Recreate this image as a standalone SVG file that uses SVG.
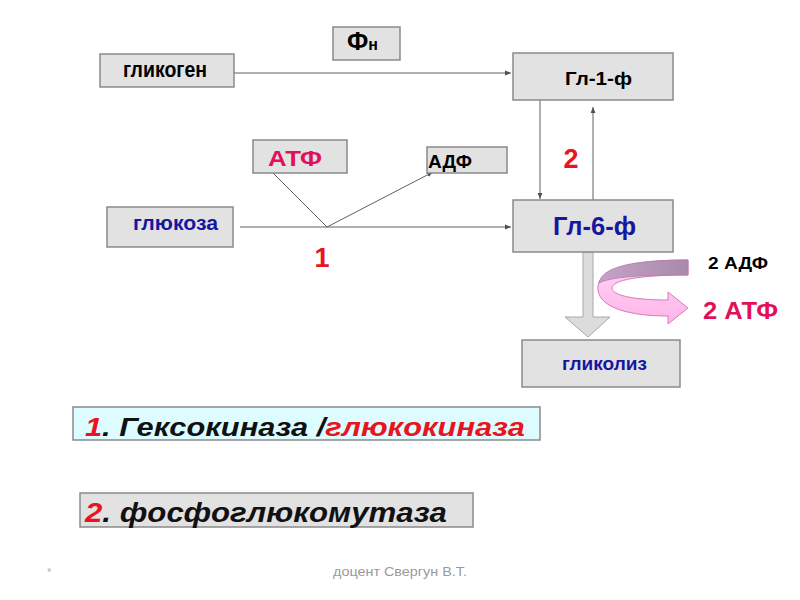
<svg xmlns="http://www.w3.org/2000/svg" width="800" height="600" viewBox="0 0 800 600">
<defs>
<style>
.box{fill:#e2e2e2;stroke:#8a8a8a;stroke-width:1.5}
.t{font-family:"Liberation Sans",Arial,sans-serif;font-weight:bold}
.ln{stroke:#606060;stroke-width:1;fill:none}
.blue{fill:#1616a0}
</style>
<marker id="ah" viewBox="0 0 10 10" refX="10" refY="5" markerWidth="6" markerHeight="6" orient="auto-start-reverse" markerUnits="userSpaceOnUse">
<path d="M0,1 L10,5 L0,9 Z" fill="#505050"/>
</marker>
<linearGradient id="back" x1="0" y1="0" x2="1" y2="0">
<stop offset="0" stop-color="#c6a2c8"/>
<stop offset="1" stop-color="#a98aa9"/>
</linearGradient>
<linearGradient id="front" x1="0" y1="0" x2="0" y2="1">
<stop offset="0" stop-color="#ffd6f4"/>
<stop offset="1" stop-color="#ffb4ea"/>
</linearGradient>
</defs>
<rect width="800" height="600" fill="#ffffff"/>

<g id="connectors">
<line class="ln" x1="234" y1="73" x2="511" y2="73" marker-end="url(#ah)"/>
<line class="ln" x1="240" y1="227" x2="511" y2="227" marker-end="url(#ah)"/>
<polyline class="ln" points="273,173 327,227"/>
<line class="ln" x1="327" y1="227" x2="433" y2="172" marker-end="url(#ah)"/>
<line class="ln" x1="540" y1="100" x2="540" y2="199" marker-end="url(#ah)"/>
<line class="ln" x1="593" y1="207" x2="593" y2="107" marker-end="url(#ah)"/>
<path d="M583,252 L593,252 L593,317 L610,317 L588,337 L565,317 L583,317 Z" fill="#dcdcdc" stroke="#a8a8a8" stroke-width="1"/>
<g id="cycle">
<path d="M688,260 C620,260 596,273 598,290 C600,308 630,316 668,316 L668,324 L688,308 L668,292 L668,300 C632,300 612,295 612,288 C612,280 640,275 688,275 Z" fill="url(#front)" stroke="#d77ab8" stroke-width="1"/>
<path d="M688,260 C628,260 602,268 599,283 C610,277 640,275 688,275 Z" fill="url(#back)" stroke="#b07ab0" stroke-width="0.8"/>
</g>
</g>

<g id="glycogen"><rect class="box" x="100" y="54" width="134" height="33"/><text class="t" x="123" y="77" font-size="22" textLength="84" lengthAdjust="spacingAndGlyphs">гликоген</text></g>
<g id="pn"><rect class="box" x="333" y="27" width="67" height="33"/><text class="t" x="347" y="50"><tspan font-size="25">Ф</tspan><tspan font-size="16">н</tspan></text></g>
<g id="gl1p"><rect class="box" x="513" y="53" width="160" height="47"/><text class="t" x="565" y="85" font-size="18" textLength="67" lengthAdjust="spacingAndGlyphs">Гл-1-ф</text></g>
<g id="atp"><rect class="box" x="253" y="140" width="94" height="33"/><text class="t" x="268" y="166" font-size="22" fill="#e0105a" textLength="54" lengthAdjust="spacingAndGlyphs">АТФ</text></g>
<g id="adp"><rect class="box" x="427" y="147" width="80" height="26"/><text class="t" x="428" y="168" font-size="18" textLength="44" lengthAdjust="spacingAndGlyphs">АДФ</text></g>
<g id="glucose"><rect class="box" x="107" y="207" width="126" height="40"/><text class="t blue" x="133" y="230" font-size="21" textLength="85" lengthAdjust="spacingAndGlyphs">глюкоза</text></g>
<g id="gl6p"><rect class="box" x="513" y="200" width="160" height="52"/><text class="t blue" x="553" y="235" font-size="25" textLength="83" lengthAdjust="spacingAndGlyphs">Гл-6-ф</text></g>
<g id="glycolysis"><rect class="box" x="522" y="340" width="158" height="47"/><text class="t blue" x="562" y="370" font-size="18" textLength="85" lengthAdjust="spacingAndGlyphs">гликолиз</text></g>

<text class="t" x="322" y="267" font-size="27" fill="#e8141e" text-anchor="middle">1</text>
<text class="t" x="571" y="168" font-size="27" fill="#e8141e" text-anchor="middle">2</text>
<text class="t" x="708" y="269" font-size="17" textLength="60" lengthAdjust="spacingAndGlyphs">2 АДФ</text>
<text class="t" x="703" y="319" font-size="24" fill="#e0105a" textLength="75" lengthAdjust="spacingAndGlyphs">2 АТФ</text>

<g id="enzyme1"><rect x="73" y="407" width="467" height="33" fill="#ddfcff" stroke="#8a8a8a" stroke-width="1.5"/>
<text class="t" x="85" y="436" font-size="26" font-style="italic" textLength="440" lengthAdjust="spacingAndGlyphs"><tspan fill="#e8141e">1</tspan><tspan fill="#111">. Гексокиназа /</tspan><tspan fill="#e8141e">глюкокиназа</tspan></text></g>
<g id="enzyme2"><rect x="80" y="493" width="393" height="34" fill="#e2e2e2" stroke="#8a8a8a" stroke-width="1.5"/>
<text class="t" x="85" y="522" font-size="27" font-style="italic" textLength="362" lengthAdjust="spacingAndGlyphs"><tspan fill="#e8141e">2</tspan><tspan fill="#111">. фосфоглюкомутаза</tspan></text></g>

<text x="47" y="576" font-family="Liberation Sans,Arial,sans-serif" font-size="11" fill="#b0b0b0">*</text>
<text x="333" y="576" font-family="Liberation Sans,Arial,sans-serif" font-size="12" fill="#9a9a9a" textLength="134" lengthAdjust="spacingAndGlyphs">доцент  Свергун  В.Т.</text>
</svg>
